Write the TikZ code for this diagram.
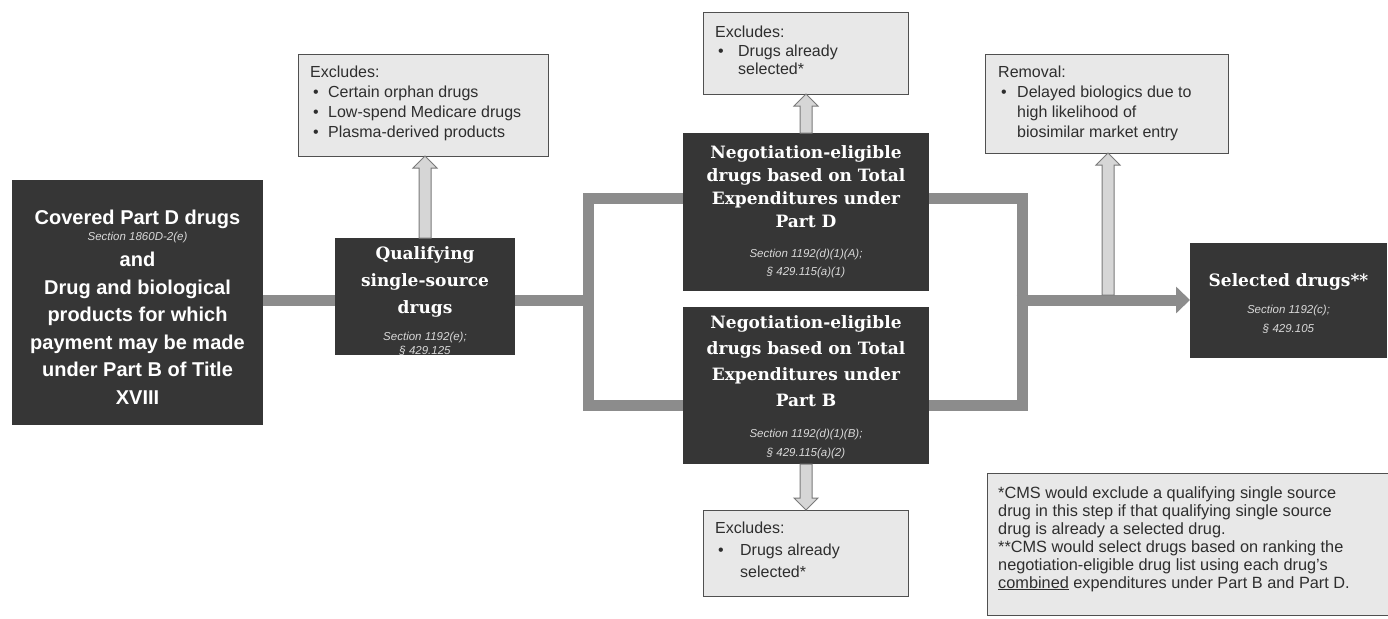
\documentclass[tikz,border=0pt]{standalone}
\usepackage{fontspec}
\setmainfont{Liberation Sans}
\newfontfamily\slab{DejaVu Serif}
\usetikzlibrary{calc,arrows.meta}

\definecolor{darkbox}{HTML}{363636}
\definecolor{linegray}{HTML}{8C8C8C}
\definecolor{lightfill}{HTML}{E8E8E8}
\definecolor{lightedge}{HTML}{505050}
\definecolor{arrfill}{HTML}{D6D6D6}
\definecolor{arredge}{HTML}{7A7A7A}
\definecolor{sectxt}{HTML}{D8D8D8}
\definecolor{bodytxt}{HTML}{2E2E2E}

\newcommand{\secsty}{\normalfont\fontsize{11.5}{14}\selectfont\itshape\color{sectxt}}
\newcommand{\blt}[1]{\makebox[#1][l]{\hspace{3pt}•}}
\newcommand{\uparr}[2]{\draw[blockarr] ($(#1)+(-6,0)$) -- ($(#2)+(-6,12)$) -- ($(#2)+(-12,12)$) -- (#2) -- ($(#2)+(12,12)$) -- ($(#2)+(6,12)$) -- ($(#1)+(6,0)$) -- cycle;}
\newcommand{\downarr}[2]{\draw[blockarr] ($(#1)+(-6,0)$) -- ($(#2)+(-6,-12)$) -- ($(#2)+(-12,-12)$) -- (#2) -- ($(#2)+(12,-12)$) -- ($(#2)+(6,-12)$) -- ($(#1)+(6,0)$) -- cycle;}

\tikzset{
  dbox/.style={fill=darkbox, draw=none, inner sep=0pt, outer sep=0pt},
  lbox/.style={fill=lightfill, draw=lightedge, line width=1pt, inner sep=0pt, outer sep=0pt},
  dtext/.style={text=white, align=center, inner sep=0pt},
  slabtext/.style={dtext, font=\slab\bfseries\fontsize{17}{#1}\selectfont},
  ltext/.style={text=bodytxt, align=left, inner sep=0pt, anchor=north west, font=\fontsize{16}{#1}\selectfont},
  conn/.style={draw=linegray, line width=11pt},
  blockarr/.style={fill=arrfill, draw=arredge, line width=1pt, line join=miter},
}

\begin{document}
\begin{tikzpicture}[x=1pt, y=-1pt]
\fill[white] (0,0) rectangle (1388,618);
\useasboundingbox (0,0) rectangle (1388,618);

% ---- boxes ----
\node[dbox, minimum width=251, minimum height=245] (left) at (137.5,302.5) {};
\node[dbox, minimum width=180, minimum height=117] (qual) at (425,296.5) {};
\node[dbox, minimum width=246, minimum height=158] (negD) at (806,212) {};
\node[dbox, minimum width=246, minimum height=157] (negB) at (806,385.5) {};
\node[dbox, minimum width=197, minimum height=115] (sel) at (1288.5,300.5) {};

\node[lbox, minimum width=250, minimum height=101] (ex1) at (423,105.5) {};
\node[lbox, minimum width=205, minimum height=81] (ex2) at (805.5,53.5) {};
\node[lbox, minimum width=205, minimum height=86] (ex3) at (805.5,553) {};
\node[lbox, minimum width=243, minimum height=98] (rem) at (1106.5,104) {};
\node[lbox, minimum width=401, minimum height=142] (foot) at (1187.5,544) {};

% ---- dark box texts ----
\node[dtext, font=\bfseries\fontsize{20}{27.5}\selectfont] (leftt) at (137.5,307)
  {Covered Part D drugs\\[-11.5pt]
   {\secsty Section 1860D-2(e)}\\[-1pt]
   and\\ Drug and biological\\ products for which\\ payment may be made\\ under Part B of Title\\ XVIII};

\node[slabtext=27] (qualt) at (425,301)
  {Qualifying\\ single-source\\ drugs\\[0pt]
   {\secsty Section 1192(e);}\\[-13pt]
   {\secsty § 429.125}};

\node[slabtext=23] (negDt) at (806,211.5)
  {Negotiation-eligible\\ drugs based on Total\\ Expenditures under\\ Part D\\[7pt]
   {\secsty Section 1192(d)(1)(A);}\\[-5pt]
   {\secsty § 429.115(a)(1)}};

\node[slabtext=26] (negBt) at (806,387.5)
  {Negotiation-eligible\\ drugs based on Total\\ Expenditures under\\ Part B\\[5pt]
   {\secsty Section 1192(d)(1)(B);}\\[-7pt]
   {\secsty § 429.115(a)(2)}};

\node[slabtext=30] (selt) at (1288.5,303.5)
  {Selected drugs**\\[-3pt]
   {\secsty Section 1192(c);}\\[-11pt]
   {\secsty § 429.105}};

% ---- light box texts ----
\node[ltext=20] (ex1t) at (310,66)
  {Excludes:\\ \blt{18pt}Certain orphan drugs\\ \blt{18pt}Low-spend Medicare drugs\\ \blt{18pt}Plasma-derived products};
\node[ltext=18.5] (ex2t) at (715,26)
  {Excludes:\\ \blt{23pt}Drugs already\\ \hspace*{23pt}selected*};
\node[ltext=22] (ex3t) at (715,522)
  {Excludes:\\ \blt{25pt}Drugs already\\ \hspace*{25pt}selected*};
\node[ltext=20] (remt) at (998,66)
  {Removal:\\ \blt{19pt}Delayed biologics due to\\ \hspace*{19pt}high likelihood of\\ \hspace*{19pt}biosimilar market entry};
\node[ltext=18, font=\fontsize{16.3}{18}\selectfont] (foott) at (998,486)
  {*CMS would exclude a qualifying single source\\
   drug in this step if that qualifying single source\\
   drug is already a selected drug.\\
   **CMS would select drugs based on ranking the\\
   negotiation-eligible drug list using each drug's\\
   \underline{combined} expenditures under Part B and Part D.};

% ---- connectors ----
\coordinate (jL) at (588,300);
\coordinate (jLt) at (588,198);
\coordinate (jLb) at (588,405);
\coordinate (jR) at (1022,300);
\coordinate (jRt) at (1022,198);
\coordinate (jRb) at (1022,405);
\coordinate (rb) at (1108,295);

\draw[conn] (left.east |- jL) -- (qual.west |- jL);
\draw[conn] (qual.east |- jL) -- (jL);
\draw[conn, line join=miter] (negD.west |- jLt) -- (jLt) -- (jLb) -- (negB.west |- jLb);
\draw[conn, line join=miter] (negD.east |- jRt) -- (jRt) -- (jRb) -- (negB.east |- jRb);
\draw[conn, -{Triangle[length=14pt,width=26pt]}] ($(jR)+(-5.5,0)$) -- (sel.west |- jR);

% ---- block arrows ----
\uparr{qual.north}{qual.north |- ex1.south}
\uparr{negD.north}{negD.north |- ex2.south}
\downarr{negB.south}{negB.south |- ex3.north}
\uparr{rb}{rb |- rem.south}
\end{tikzpicture}
\end{document}
